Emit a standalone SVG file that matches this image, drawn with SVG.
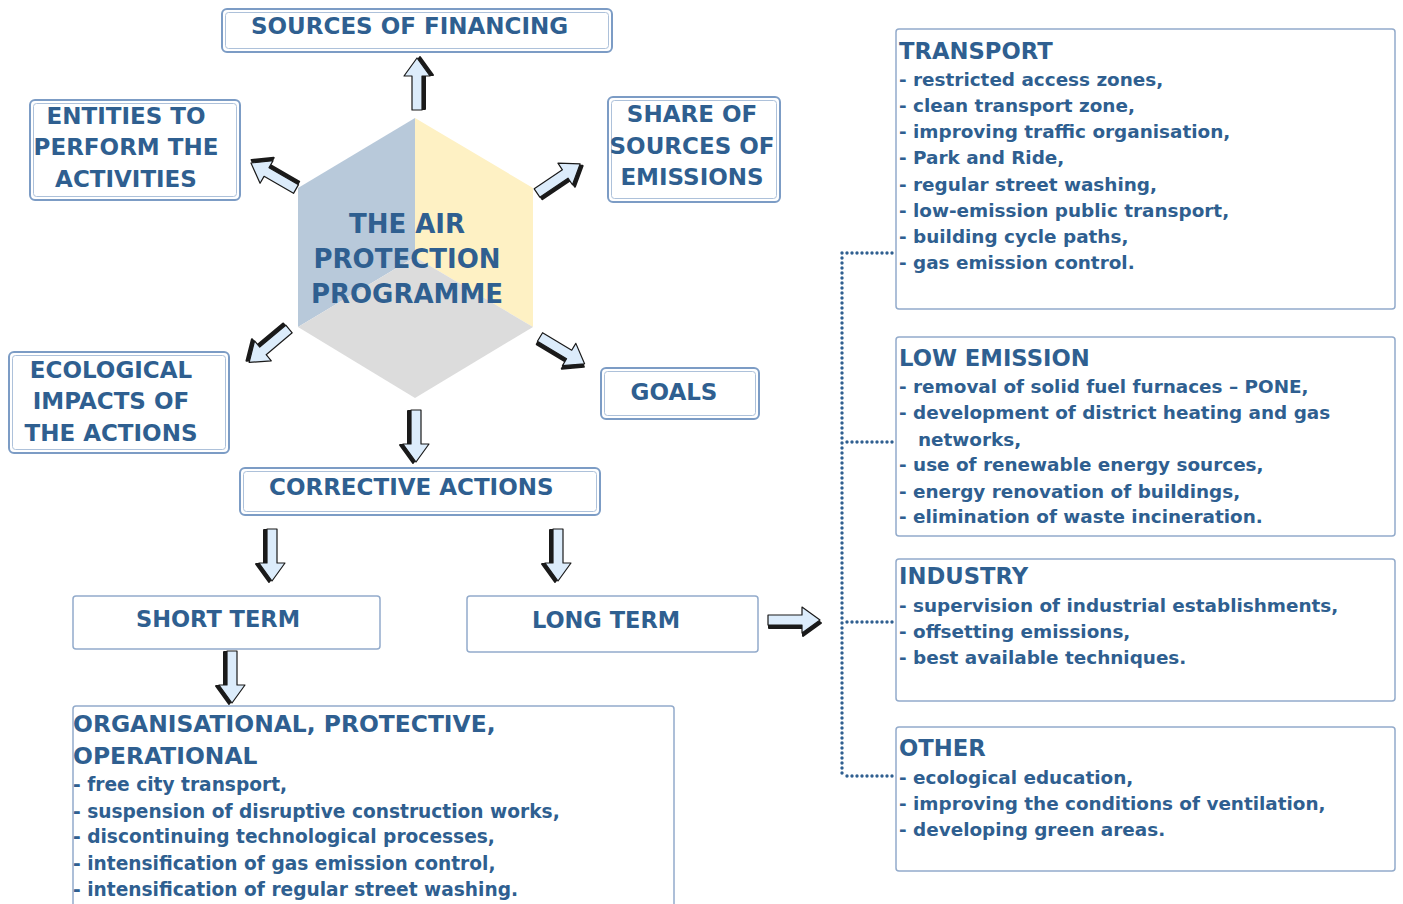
<svg xmlns="http://www.w3.org/2000/svg" xmlns:xlink="http://www.w3.org/1999/xlink" width="1403" height="904" viewBox="0 0 1403 904">
  <style>
    text { font-family: "DejaVu Sans", Verdana, sans-serif; font-weight: bold; fill: #2f5f90; }
    .big { font-size: 23px; }
    .hex { font-size: 26px; }
    .title { font-size: 22.7px; }
    .item { font-size: 18.4px; }
    .ltitle { font-size: 23.4px; }
    .litem { font-size: 18.6px; }
    .c { text-anchor: middle; }
    .outer { fill: #ffffff; stroke: #7c9cc5; stroke-width: 2; }
    .inner { fill: none; stroke: #adc1da; stroke-width: 1; }
    .plain { fill: #ffffff; stroke: #93abcb; stroke-width: 1.5; }
    .dots { fill: none; stroke: #2f5f90; stroke-width: 3.4; stroke-linecap: round; stroke-dasharray: 0 5; }
  </style>
  <defs>
    <!-- block arrow along +x: tail at origin, tip at x=52; dark shadow under the light body -->
    <g id="arr">
      <path d="M0,-5 L34,-5 L34,-13 L52,0 L34,13 L34,5 L0,5 Z" transform="translate(1,3)" fill="#1a1a1a" stroke="#1a1a1a" stroke-width="2" stroke-linejoin="round"/>
      <path d="M0,-5 L34,-5 L34,-13 L52,0 L34,13 L34,5 L0,5 Z" fill="#dcecfb" stroke="#1a1a1a" stroke-width="1.2" stroke-linejoin="round"/>
    </g>
  </defs>

  <rect width="1403" height="904" fill="#ffffff"/>

  <!-- central cube -->
  <g id="programme">
    <polygon points="415,118 415,257 298,327 298,188" fill="#b8c9da"/>
    <polygon points="415,118 533,188 533,327 415,257" fill="#fef1c4"/>
    <polygon points="415,257 533,327 415,398 298,327" fill="#dcdcdc"/>
    <text class="hex c" x="407" y="233">THE AIR</text>
    <text class="hex c" x="407" y="268">PROTECTION</text>
    <text class="hex c" x="407" y="303">PROGRAMME</text>
  </g>

  <g id="financing">
    <rect class="outer" x="222" y="9" width="390" height="43" rx="5"/>
    <rect class="inner" x="225.5" y="12.5" width="383" height="36" rx="3"/>
    <text class="big" x="251" y="34">SOURCES OF FINANCING</text>
  </g>

  <g id="entities">
    <rect class="outer" x="30" y="100" width="210" height="100" rx="5"/>
    <rect class="inner" x="33.5" y="103.5" width="203" height="93" rx="3"/>
    <text class="big c" x="126" y="124">ENTITIES TO</text>
    <text class="big c" x="126" y="155">PERFORM THE</text>
    <text class="big c" x="126" y="187">ACTIVITIES</text>
  </g>

  <g id="share">
    <rect class="outer" x="608" y="97" width="172" height="105" rx="5"/>
    <rect class="inner" x="611.5" y="100.5" width="165" height="98" rx="3"/>
    <text class="big c" x="692" y="122">SHARE OF</text>
    <text class="big c" x="692" y="154">SOURCES OF</text>
    <text class="big c" x="692" y="185">EMISSIONS</text>
  </g>

  <g id="impacts">
    <rect class="outer" x="9" y="352" width="220" height="101" rx="5"/>
    <rect class="inner" x="12.5" y="355.5" width="213" height="94" rx="3"/>
    <text class="big c" x="111" y="378">ECOLOGICAL</text>
    <text class="big c" x="111" y="409">IMPACTS OF</text>
    <text class="big c" x="111" y="441">THE ACTIONS</text>
  </g>

  <g id="goals">
    <rect class="outer" x="601" y="368" width="158" height="51" rx="5"/>
    <rect class="inner" x="604.5" y="371.5" width="151" height="44" rx="3"/>
    <text class="big c" x="674" y="400">GOALS</text>
  </g>

  <g id="corrective">
    <rect class="outer" x="240" y="468" width="360" height="47" rx="5"/>
    <rect class="inner" x="243.5" y="471.5" width="353" height="40" rx="3"/>
    <text class="big" x="269" y="495">CORRECTIVE ACTIONS</text>
  </g>

  <g id="short-term">
    <rect class="plain" x="73" y="596" width="307" height="53" rx="3"/>
    <text class="c" font-size="22.5" x="218" y="627">SHORT TERM</text>
  </g>

  <g id="long-term">
    <rect class="plain" x="467" y="596" width="291" height="56" rx="3"/>
    <text class="c" font-size="22.5" x="606" y="628">LONG TERM</text>
  </g>

  <g id="short-measures">
    <rect class="plain" x="73" y="706" width="601" height="206" rx="3"/>
    <text class="ltitle" x="73" y="732">ORGANISATIONAL, PROTECTIVE,</text>
    <text class="ltitle" x="73" y="764">OPERATIONAL</text>
    <text class="litem" x="73" y="791">- free city transport,</text>
    <text class="litem" x="73" y="818">- suspension of disruptive construction works,</text>
    <text class="litem" x="73" y="843">- discontinuing technological processes,</text>
    <text class="litem" x="73" y="870">- intensification of gas emission control,</text>
    <text class="litem" x="73" y="896">- intensification of regular street washing.</text>
  </g>

  <g id="transport">
    <rect class="plain" x="896" y="29" width="499" height="280" rx="3"/>
    <text class="title" x="899" y="59">TRANSPORT</text>
    <text class="item" x="899" y="86">- restricted access zones,</text>
    <text class="item" x="899" y="112">- clean transport zone,</text>
    <text class="item" x="899" y="138">- improving traffic organisation,</text>
    <text class="item" x="899" y="164">- Park and Ride,</text>
    <text class="item" x="899" y="191">- regular street washing,</text>
    <text class="item" x="899" y="217">- low-emission public transport,</text>
    <text class="item" x="899" y="243">- building cycle paths,</text>
    <text class="item" x="899" y="269">- gas emission control.</text>
  </g>

  <g id="low-emission">
    <rect class="plain" x="896" y="337" width="499" height="199" rx="3"/>
    <text class="title" x="899" y="366">LOW EMISSION</text>
    <text class="item" x="899" y="393">- removal of solid fuel furnaces – PONE,</text>
    <text class="item" x="899" y="419">- development of district heating and gas</text>
    <text class="item" x="918" y="446">networks,</text>
    <text class="item" x="899" y="471">- use of renewable energy sources,</text>
    <text class="item" x="899" y="498">- energy renovation of buildings,</text>
    <text class="item" x="899" y="523">- elimination of waste incineration.</text>
  </g>

  <g id="industry">
    <rect class="plain" x="896" y="559" width="499" height="142" rx="3"/>
    <text class="title" x="899" y="584">INDUSTRY</text>
    <text class="item" x="899" y="612">- supervision of industrial establishments,</text>
    <text class="item" x="899" y="638">- offsetting emissions,</text>
    <text class="item" x="899" y="664">- best available techniques.</text>
  </g>

  <g id="other">
    <rect class="plain" x="896" y="727" width="499" height="144" rx="3"/>
    <text class="title" x="899" y="756">OTHER</text>
    <text class="item" x="899" y="784">- ecological education,</text>
    <text class="item" x="899" y="810">- improving the conditions of ventilation,</text>
    <text class="item" x="899" y="836">- developing green areas.</text>
  </g>

  <g id="connectors">
    <!-- arrows around the cube -->
    <use xlink:href="#arr" href="#arr" transform="translate(417,110) rotate(-90)"/>
    <use xlink:href="#arr" href="#arr" transform="translate(296,189) rotate(-150)"/>
    <use xlink:href="#arr" href="#arr" transform="translate(537,193) rotate(-34)"/>
    <use xlink:href="#arr" href="#arr" transform="translate(289,329) rotate(140)"/>
    <use xlink:href="#arr" href="#arr" transform="translate(540,337) rotate(31)"/>
    <use xlink:href="#arr" href="#arr" transform="translate(416,410) rotate(90)"/>
    <!-- arrows below corrective actions -->
    <use xlink:href="#arr" href="#arr" transform="translate(272,529) rotate(90)"/>
    <use xlink:href="#arr" href="#arr" transform="translate(558,529) rotate(90)"/>
    <use xlink:href="#arr" href="#arr" transform="translate(232,651) rotate(90)"/>
    <use xlink:href="#arr" href="#arr" transform="translate(768,620)"/>
    <!-- dotted bracket to the long-term groups -->
    <path class="dots" d="M842,253 L842,776"/>
    <path class="dots" d="M847,253 L893,253 M847,442 L893,442 M847,622 L893,622 M847,776 L893,776"/>
  </g>
</svg>
